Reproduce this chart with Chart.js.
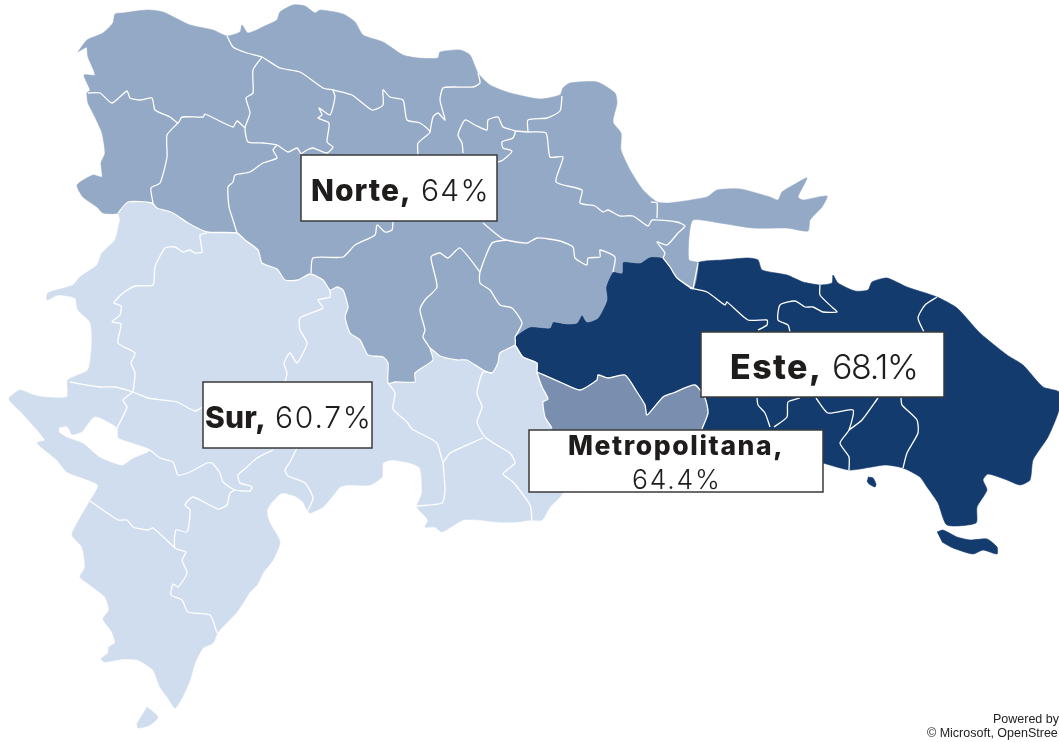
<!DOCTYPE html>
<html><head><meta charset="utf-8">
<style>html,body{margin:0;padding:0;background:#fff;overflow:hidden}canvas{display:block}</style>
<script src="https://cdn.jsdelivr.net/npm/chart.js@4/dist/chart.umd.min.js"></script>
</head><body><canvas id="c" width="1059" height="742"></canvas>
<script>
const regionNames = ['Norte,', 'Sur,', 'Este,', 'Metropolitana,'];
const regionValues = ['64%', '60.7%', '68.1%', '64.4%'];
const attribution = ['Powered by', '© Microsoft, OpenStree'];

const norteOutline = [[78,52],[87,40],[103,33],[113,23],[115,14],[123,13],[147,10],[163,12],[190,25],[213,30],[227,36],[240,32],[242,25],[248,33],[267,25],[277,20],[280,12],[293,5],[305,6],[315,13],[320,10],[343,14],[355,22],[363,35],[383,42],[403,55],[418,58],[438,58],[440,52],[460,50],[470,55],[478,73],[490,85],[510,93],[540,99],[560,95],[563,88],[570,83],[597,82],[615,93],[617,103],[613,122],[621,133],[621,150],[630,170],[643,190],[657,202],[670,203],[707,197],[717,190],[740,189],[770,197],[778,200],[782,192],[797,183],[807,178],[798,197],[803,200],[827,196],[822,207],[810,220],[808,231],[787,228],[753,228],[720,223],[693,220],[689,237],[689,260],[698,263],[693,289],[677,278],[670,267],[663,258],[650,257],[640,263],[623,262],[622,273],[613,272],[606,287],[607,300],[598,318],[587,322],[582,315],[577,323],[567,324],[553,322],[550,328],[530,327],[515,337],[515,345],[500,353],[498,363],[492,373],[483,370],[467,360],[457,360],[440,356],[430,348],[433,360],[415,373],[415,382],[395,382],[388,383],[388,363],[383,357],[368,355],[360,340],[350,333],[345,317],[348,307],[343,290],[337,287],[330,290],[323,280],[310,274],[298,280],[285,280],[277,269],[262,263],[258,250],[245,240],[237,233],[207,232],[188,223],[173,213],[157,208],[152,203],[128,202],[118,213],[103,213],[97,207],[83,197],[77,185],[93,175],[102,177],[101,163],[105,153],[102,133],[95,117],[88,103],[87,93],[90,90],[84,75],[95,75],[88,57],[87,47]];

const surOutline = [[118,213],[128,202],[152,203],[157,208],[173,213],[188,223],[207,232],[237,233],[245,240],[258,250],[262,263],[277,269],[285,280],[298,280],[310,274],[323,280],[330,290],[337,287],[343,290],[348,307],[345,317],[350,333],[360,340],[368,355],[383,357],[388,363],[388,383],[395,382],[415,382],[415,373],[433,360],[430,348],[440,356],[457,360],[467,360],[483,370],[492,373],[498,363],[500,353],[515,345],[523,357],[537,363],[537,372],[542,387],[548,399],[543,402],[545,417],[552,428],[563,492],[550,507],[542,520],[530,520],[517,522],[497,522],[480,520],[463,520],[442,532],[435,527],[425,527],[428,520],[417,507],[422,493],[420,468],[410,463],[392,460],[383,463],[382,477],[370,485],[347,485],[340,487],[335,493],[323,507],[310,513],[307,510],[303,502],[295,496],[282,493],[272,502],[267,510],[268,518],[272,527],[277,535],[280,543],[273,560],[263,573],[257,585],[250,592],[237,612],[218,632],[213,643],[203,648],[195,663],[190,680],[182,698],[175,708],[168,698],[160,687],[153,670],[138,660],[123,659],[105,662],[101,659],[108,653],[109,647],[115,643],[112,632],[103,619],[109,610],[105,597],[90,585],[80,577],[85,567],[82,547],[72,535],[80,518],[90,501],[98,485],[67,472],[57,460],[37,443],[45,440],[22,413],[9,399],[20,390],[33,395],[43,397],[67,397],[68,380],[88,370],[92,340],[90,322],[78,310],[75,298],[58,295],[47,300],[48,293],[73,285],[80,277],[97,265],[102,253],[115,240],[120,220]];

const metroOutline = [[537,372],[562,383],[580,390],[597,380],[598,375],[608,378],[625,375],[637,392],[645,405],[647,415],[663,397],[673,393],[695,385],[705,398],[708,413],[702,429],[702,445],[552,445],[552,428],[545,417],[543,402],[548,399],[542,387]];

const esteOutline = [[693,289],[698,263],[723,260],[748,258],[758,260],[762,270],[787,275],[803,282],[820,285],[832,283],[833,275],[838,283],[855,291],[868,290],[872,282],[887,278],[907,287],[937,297],[957,308],[980,333],[1007,355],[1023,365],[1043,387],[1059,392],[1059,410],[1048,437],[1033,460],[1030,480],[1020,485],[1007,480],[988,474],[983,480],[987,490],[977,507],[976,523],[947,525],[938,503],[927,487],[920,477],[903,468],[885,465],[850,470],[823,463],[790,455],[702,445],[702,429],[708,413],[705,398],[695,385],[673,393],[663,397],[647,415],[645,405],[637,392],[625,375],[608,378],[598,375],[597,380],[580,390],[562,383],[537,372],[537,363],[523,357],[515,346],[515,337],[530,327],[550,328],[553,322],[567,324],[577,323],[582,315],[587,322],[598,318],[607,300],[606,287],[613,272],[622,273],[623,262],[640,263],[650,257],[663,258],[670,267],[677,278]];

const lagoOutline = [[59,428],[67,427],[72,435],[82,432],[95,417],[117,428],[118,438],[150,450],[133,458],[122,465],[100,457],[83,443],[67,437],[59,432]];
const beataOutline = [[147,707],[158,717],[150,725],[138,728],[137,723]];
const saonaOutline = [[937,532],[943,530],[957,537],[970,540],[987,539],[997,547],[997,554],[983,550],[973,554],[953,548],[942,542]];
const catalinaOutline = [[868,477],[873,478],[876,484],[875,487],[869,484],[867,481]];

const norteBorders = [
 [[227,36],[233,47],[247,53],[262,57],[280,68],[300,72],[323,88],[333,90],[352,95],[372,110],[383,105],[383,90],[390,97],[403,100],[407,120],[420,123],[430,132],[418,143],[418,155]],
 [[430,132],[433,117],[438,113],[445,120],[440,100],[443,88],[453,87],[473,87],[480,83],[478,73]],
 [[262,57],[253,70],[253,93],[246,98],[250,113],[245,128],[248,142],[263,143],[277,145],[288,152],[297,148],[301,154]],
 [[333,90],[335,97],[330,115],[319,108],[322,115],[318,118],[329,123],[327,142],[333,147],[327,153],[313,148],[307,150],[301,154]],
 [[88,93],[100,93],[112,103],[127,91],[130,98],[140,100],[152,98],[155,110],[170,117],[178,123],[182,117],[203,117],[205,114],[233,127],[237,121],[245,128]],
 [[178,123],[167,135],[167,157],[160,183],[151,188],[153,203]],
 [[277,145],[273,150],[277,158],[263,163],[250,172],[235,175],[233,182],[228,187],[229,207],[233,220],[237,233]],
 [[393,222],[392,230],[385,232],[377,225],[375,235],[355,245],[343,257],[313,258],[311,273]],
 [[463,153],[462,143],[458,135],[465,120],[475,125],[487,130],[488,120],[498,117],[503,127],[515,131],[513,138],[502,142],[503,148],[512,151],[503,160],[498,162]],
 [[515,131],[528,132],[546,133],[550,157],[563,157],[556,182],[582,190],[580,203],[595,206],[603,212],[608,210],[620,216],[633,216],[648,226],[652,220],[677,222],[685,226],[678,233],[667,245],[657,242],[665,253],[663,258]],
 [[528,132],[528,120],[547,118],[560,111],[562,96]],
 [[657,218],[657,203],[651,202]],
 [[483,223],[500,237],[506,240],[527,243],[537,238],[560,241],[573,247],[575,258],[587,265],[588,258],[600,257],[600,250],[615,257],[613,272]],
 [[506,240],[492,243],[480,272],[480,283],[490,290],[500,305],[512,308],[522,323],[515,337]],
 [[480,272],[460,248],[448,258],[440,253],[431,257],[437,287],[425,300],[420,310],[425,330],[423,337],[430,348]],
 [[693,289],[677,278],[670,267],[663,258]],
 [[693,289],[698,263]]
];

const esteBorders = [
 [[690,288],[707,292],[725,305],[727,302],[748,320],[767,320],[767,325],[758,330]],
 [[820,285],[820,295],[833,308],[837,312],[823,312],[813,307],[805,307],[795,301],[780,305],[778,320],[788,325],[790,332]],
 [[937,297],[925,305],[918,318],[924,332]],
 [[757,398],[758,405],[765,413],[770,427]],
 [[800,398],[788,402],[787,417],[774,427]],
 [[816,398],[828,413],[853,410],[849,430],[840,443],[849,457],[849,470]],
 [[878,398],[862,420],[849,430]],
 [[901,398],[902,405],[917,420],[918,433],[907,453],[903,468]]
];

const surBorders = [
 [[207,233],[200,235],[202,252],[195,253],[190,250],[183,252],[175,247],[165,248],[155,267],[153,285],[135,286],[123,293],[114,303],[121,306],[120,315],[112,322],[121,324],[118,343],[135,353],[131,363],[135,373],[133,392]],
 [[70,382],[100,387],[115,387],[133,392],[148,398],[163,400],[177,402],[195,411],[203,407]],
 [[133,392],[123,400],[127,407],[117,428]],
 [[150,450],[160,458],[173,462],[178,475],[190,472],[207,463],[212,463],[220,473],[223,482],[235,490],[250,491],[252,487],[247,485],[240,483],[238,475],[247,467],[257,458],[273,450]],
 [[235,490],[230,493],[227,505],[218,509],[193,497],[185,505],[190,510],[187,532],[176,530],[175,548],[186,552],[182,560],[187,573],[178,587],[173,584],[171,595],[182,600],[188,612],[210,615],[217,633]],
 [[90,501],[118,520],[127,520],[133,527],[148,530],[153,528],[175,548]],
 [[297,448],[290,462],[285,470],[288,476],[305,483],[313,498],[307,512]],
 [[388,383],[395,393],[393,409],[407,422],[412,429],[433,440],[438,445],[443,462],[450,453],[483,438]],
 [[443,462],[445,490],[442,503],[417,506]],
 [[492,373],[483,372],[477,393],[482,407],[477,422],[485,437],[500,447],[510,453],[515,463],[503,474],[513,482],[530,505],[532,520]],
 [[330,290],[330,297],[318,300],[323,308],[300,318],[300,330],[307,343],[297,363],[290,353],[284,363],[287,373],[285,382]],
 [[515,345],[523,357],[537,363],[537,372],[542,387],[548,399],[543,402],[545,417],[552,428]],
 [[537,372],[562,383],[580,390],[597,380],[598,375],[608,378],[625,375],[637,392],[645,405],[647,415],[663,397],[673,393],[695,385],[705,398],[708,413],[702,429]],
 [[118,213],[128,202],[152,203],[157,208],[173,213],[188,223],[207,232],[237,233],[245,240],[258,250],[262,263],[277,269],[285,280],[298,280],[310,274],[323,280],[330,290],[337,287],[343,290],[348,307],[345,317],[350,333],[360,340],[368,355],[383,357],[388,363],[388,383],[395,382],[415,382],[415,373],[433,360],[430,348],[440,356],[457,360],[467,360],[483,370],[492,373],[498,363],[500,353],[515,345],[515,337]]
];

const pts = a => a.map(p => ({x: p[0], y: p[1]}));
const area = (a, color, order) => ({data: pts(a), showLine: true, fill: 'shape', backgroundColor: color, borderColor: color, borderWidth: 0.6, pointRadius: 0, tension: 0.2, order});
const border = a => ({data: pts(a), showLine: true, fill: false, borderColor: '#ffffff', borderWidth: 1.3, pointRadius: 0, tension: 0.2, borderJoinStyle: 'round', order: 1});

const boxes = [
 {i: 0, l: 301, t: 155, r: 497, b: 221, size: 30, x: 311, y: 201, vx: 421, vy: 201, bs: 1, vs: 1.3},
 {i: 1, l: 203, t: 382, r: 372, b: 448, size: 30, x: 205, y: 428, vx: 275, vy: 428, bs: 0.2, vs: 1.8},
 {i: 2, l: 701, t: 332, r: 944, b: 397, size: 34, x: 730, y: 379, vx: 832, vy: 379, bs: 1.4, vs: -1.4},
 {i: 3, l: 529, t: 430, r: 823, b: 492, size: 26.5, x: 568, y: 455, vx: 632, vy: 489, bs: 1.6, vs: 1.8}
];

const labelPlugin = {
 id: 'regionLabels',
 afterDraw(chart) {
  const ctx = chart.ctx;
  ctx.save();
  ctx.textBaseline = 'alphabetic';
  ctx.textAlign = 'left';
  for (const b of boxes) {
   ctx.fillStyle = '#ffffff';
   ctx.strokeStyle = '#3a3a3a';
   ctx.lineWidth = 1.5;
   ctx.fillRect(b.l, b.t, b.r - b.l, b.b - b.t);
   ctx.strokeRect(b.l, b.t, b.r - b.l, b.b - b.t);
   ctx.fillStyle = '#1f1c1c';
   ctx.font = `800 ${b.size}px Inter, Lato, sans-serif`;
   ctx.letterSpacing = b.bs + 'px';
   ctx.fillText(regionNames[b.i], b.x, b.y);
   ctx.font = `300 ${b.size}px Inter, Lato, sans-serif`;
   ctx.letterSpacing = b.vs + 'px';
   ctx.fillText(regionValues[b.i], b.vx, b.vy);
  }
  ctx.letterSpacing = '0px';
  ctx.fillStyle = '#222222';
  ctx.font = '12.5px "Liberation Sans", Arial, sans-serif';
  ctx.textAlign = 'right';
  ctx.fillText(attribution[0], 1059, 723);
  ctx.textAlign = 'left';
  ctx.fillText(attribution[1], 927, 737);
  ctx.restore();
 }
};

new Chart(document.getElementById('c'), {
 type: 'scatter',
 data: {datasets: [
  area(norteOutline, '#94a9c5', 5),
  area(surOutline, '#d0ddef', 5),
  area(esteOutline, '#143b6e', 5),
  area(saonaOutline, '#143b6e', 5),
  area(catalinaOutline, '#143b6e', 5),
  area(beataOutline, '#d0ddef', 5),
  area(metroOutline, '#7a8fb0', 4),
  area(lagoOutline, '#ffffff', 3),
  ...norteBorders.map(border),
  ...esteBorders.map(border),
  ...surBorders.map(border)
 ]},
 options: {
  responsive: false, animation: false, events: [],
  layout: {padding: 0},
  plugins: {legend: {display: false}, tooltip: {enabled: false}, title: {display: false}},
  scales: {
   x: {type: 'linear', min: 0, max: 1059, display: false},
   y: {type: 'linear', min: 0, max: 742, reverse: true, display: false}
  }
 },
 plugins: [labelPlugin]
});
</script></body></html>
